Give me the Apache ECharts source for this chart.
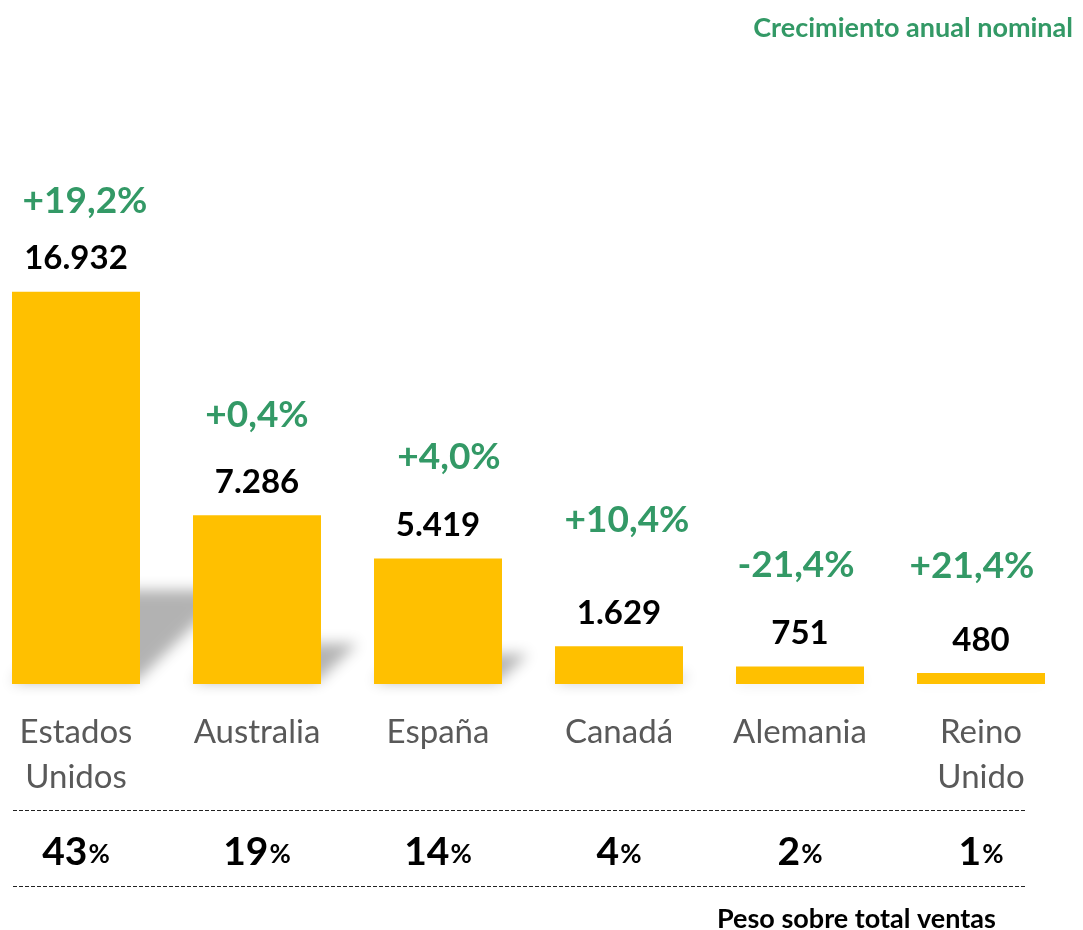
<!DOCTYPE html>
<html>
<head>
<meta charset="utf-8">
<script src="https://cdn.jsdelivr.net/npm/echarts@6/dist/echarts.min.js"></script>
<style>
html,body{margin:0;padding:0;background:#fff;overflow:hidden;}
#chart{position:absolute;left:-15px;top:0;width:1098px;height:930px;}
</style>
</head>
<body>
<div id="chart"></div>
<script>
const categories = ['Estados\nUnidos', 'Australia', 'España', 'Canadá', 'Alemania', 'Reino\nUnido'];
const sales = [16932, 7286, 5419, 1629, 751, 480];
const growth = ['+19,2%', '+0,4%', '+4,0%', '+10,4%', '-21,4%', '+21,4%'];
const share = [43, 19, 14, 4, 2, 1];

// label placement (pixels relative to bar top centre), layout only
const growthLabelDist = [72, 81, 82, 107, 83, 88];
const growthLabelShiftX = [9, 0, 11, 8, -4, -9];

const GREEN = '#339966';
const FONT = 'Lato';
const SHIFT = 15; // container is shifted 15px left

function fmt(v) {
  return String(v).replace(/\B(?=(\d{3})+(?!\d))/g, '.');
}

const chart = echarts.init(document.getElementById('chart'));
const option = {
  backgroundColor: '#ffffff',
  animation: false,
  title: [
    {
      text: 'Crecimiento anual nominal',
      right: 5, top: 10,
      textStyle: { color: GREEN, fontSize: 27, fontWeight: 'bold', fontFamily: FONT }
    },
    {
      text: 'Peso sobre total ventas',
      left: 712 + SHIFT, top: 901,
      textStyle: { color: '#000', fontSize: 27, fontWeight: 'bold', fontFamily: FONT }
    }
  ],
  grid: { left: 0.5, width: 1086, top: 105, bottom: 246 },
  xAxis: [
    {
      type: 'category',
      data: categories,
      position: 'bottom',
      axisLine: { show: false },
      axisTick: { show: false },
      axisLabel: {
        color: '#595959', fontSize: 33, lineHeight: 45, margin: 26,
        fontFamily: FONT, interval: 0
      }
    },
    {
      type: 'category',
      data: share.map(String),
      position: 'bottom',
      offset: 140,
      axisLine: { show: false },
      axisTick: { show: false },
      axisLabel: {
        margin: 4, interval: 0,
        formatter: v => '{a|' + v + '}{b|%}',
        rich: {
          a: { fontSize: 39, fontWeight: 'bold', color: '#000', fontFamily: FONT, lineHeight: 44, verticalAlign: 'bottom' },
          b: { fontSize: 26, fontWeight: 'bold', color: '#000', fontFamily: FONT, lineHeight: 44, verticalAlign: 'bottom', padding: [0, 0, 4, 1] }
        }
      }
    }
  ],
  yAxis: { type: 'value', min: 0, max: 25000, show: false, splitLine: { show: false } },
  series: [
    {
      type: 'custom',
      z: 1,
      data: sales.map((v, i) => [i, v]),
      renderItem: function (params, api) {
        const base = api.coord([api.value(0), 0]);
        const top = api.coord([api.value(0), api.value(1)]);
        const bw = 128;
        const h = base[1] - top[1];
        const sh = h * 0.24;
        const xL = base[0] - bw / 2, xR = base[0] + bw / 2;
        const OFF = 3000;
        return {
          type: 'polygon',
          x: -OFF,
          shape: { points: [[xL, base[1] - 2], [xR - 4, base[1] - 2], [xR + sh - 4, base[1] - sh], [xL + sh, base[1] - sh]] },
          style: { fill: '#000', shadowBlur: 14, shadowColor: 'rgba(0,0,0,0.3)', shadowOffsetX: OFF }
        };
      }
    },
    {
      type: 'bar',
      z: 3,
      data: sales,
      barWidth: 128,
      itemStyle: { color: '#FFC000' },
      label: {
        show: true, position: 'top', distance: 15,
        formatter: p => fmt(p.value),
        color: '#000', fontSize: 33, fontWeight: 'bold', fontFamily: FONT, lineHeight: 36
      }
    },
    {
      type: 'bar',
      z: 4,
      barGap: '-100%',
      barWidth: 128,
      data: sales.map((v, i) => ({
        value: v,
        label: { distance: growthLabelDist[i], offset: [growthLabelShiftX[i], 0] }
      })),
      itemStyle: { color: 'rgba(0,0,0,0)' },
      silent: true,
      label: {
        show: true, position: 'top',
        formatter: p => growth[p.dataIndex],
        color: GREEN, fontSize: 37, fontWeight: 'bold', fontFamily: FONT, lineHeight: 38
      }
    }
  ],
  graphic: [
    { type: 'line', shape: { x1: 13 + SHIFT, y1: 810.5, x2: 1027 + SHIFT, y2: 810.5 }, style: { stroke: '#222', lineWidth: 1.2, lineDash: [4, 2] } },
    { type: 'line', shape: { x1: 13 + SHIFT, y1: 886.5, x2: 1027 + SHIFT, y2: 886.5 }, style: { stroke: '#222', lineWidth: 1.2, lineDash: [4, 2] } }
  ]
};
chart.setOption(option);
</script>
</body>
</html>
